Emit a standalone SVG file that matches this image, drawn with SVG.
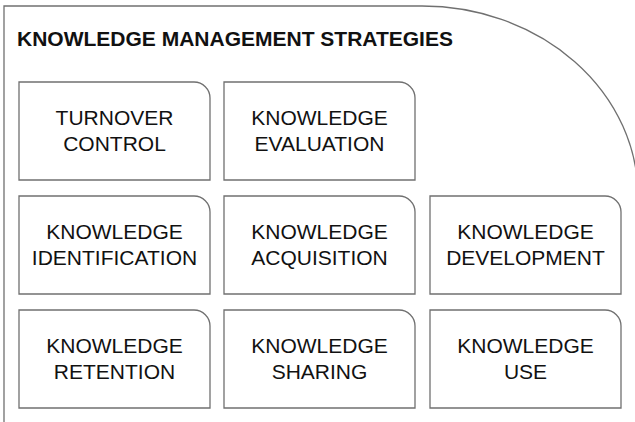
<svg xmlns="http://www.w3.org/2000/svg" width="635" height="422" viewBox="0 0 635 422">
<style>
.frame{fill:none;stroke:#707070;stroke-width:1.3}
.box{fill:#fff;stroke:#707070;stroke-width:1.3}
.lbl{font-family:"Liberation Sans",Arial,sans-serif;font-size:21px;fill:#111;text-anchor:middle}
.title{font-family:"Liberation Sans",Arial,sans-serif;font-size:21px;font-weight:bold;fill:#111}
</style>
<defs>
<path id="bx" d="M0,0 H175 A16,16 0 0 1 191,16 V98 H0 Z"/>
</defs>
<g id="frame">
<path class="frame" d="M4,423 V6 H422 A216,190 0 0 1 638,196"/>
<text class="title" x="17" y="46">KNOWLEDGE MANAGEMENT STRATEGIES</text>
</g>
<g id="connectors"></g>
<g id="turnover-control" transform="translate(19,82)">
<use href="#bx" class="box"/>
<text class="lbl" x="95.5" y="43">TURNOVER</text>
<text class="lbl" x="95.5" y="69">CONTROL</text>
</g>
<g id="knowledge-evaluation" transform="translate(224,82)">
<use href="#bx" class="box"/>
<text class="lbl" x="95.5" y="43">KNOWLEDGE</text>
<text class="lbl" x="95.5" y="69">EVALUATION</text>
</g>
<g id="knowledge-identification" transform="translate(19,196)">
<use href="#bx" class="box"/>
<text class="lbl" x="95.5" y="43">KNOWLEDGE</text>
<text class="lbl" x="95.5" y="69">IDENTIFICATION</text>
</g>
<g id="knowledge-acquisition" transform="translate(224,196)">
<use href="#bx" class="box"/>
<text class="lbl" x="95.5" y="43">KNOWLEDGE</text>
<text class="lbl" x="95.5" y="69">ACQUISITION</text>
</g>
<g id="knowledge-development" transform="translate(430,196)">
<use href="#bx" class="box"/>
<text class="lbl" x="95.5" y="43">KNOWLEDGE</text>
<text class="lbl" x="95.5" y="69">DEVELOPMENT</text>
</g>
<g id="knowledge-retention" transform="translate(19,310)">
<use href="#bx" class="box"/>
<text class="lbl" x="95.5" y="43">KNOWLEDGE</text>
<text class="lbl" x="95.5" y="69">RETENTION</text>
</g>
<g id="knowledge-sharing" transform="translate(224,310)">
<use href="#bx" class="box"/>
<text class="lbl" x="95.5" y="43">KNOWLEDGE</text>
<text class="lbl" x="95.5" y="69">SHARING</text>
</g>
<g id="knowledge-use" transform="translate(430,310)">
<use href="#bx" class="box"/>
<text class="lbl" x="95.5" y="43">KNOWLEDGE</text>
<text class="lbl" x="95.5" y="69">USE</text>
</g>
</svg>
